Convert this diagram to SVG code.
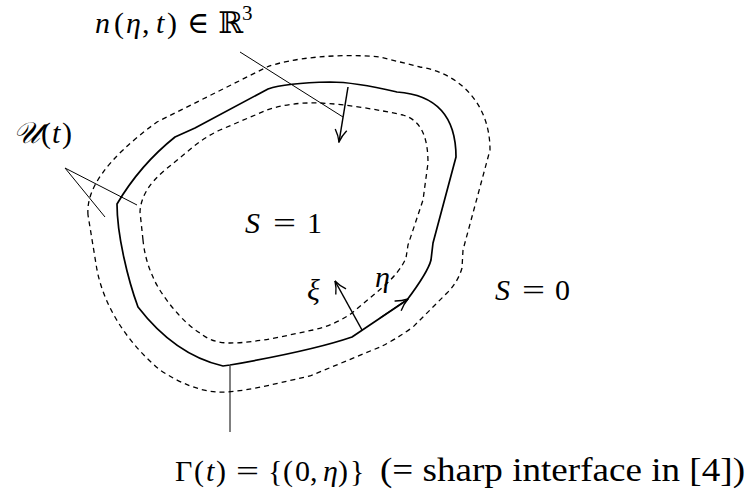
<svg xmlns="http://www.w3.org/2000/svg" width="752" height="490" viewBox="0 0 752 490">
<style>
.solid{fill:none;stroke:#000;stroke-width:1.7;stroke-linejoin:round}
.dash{fill:none;stroke:#000;stroke-width:1.3;stroke-dasharray:5 4}
.thin{fill:none;stroke:#000;stroke-width:1}
.arrow{fill:none;stroke:#000;stroke-width:1.5;marker-end:url(#head)}
text{font-family:"Liberation Serif","DejaVu Serif",serif;font-size:30px;fill:#000}
.it{font-style:italic}
.txt{font-size:33px}
</style>
<defs>
<marker id="head" viewBox="0 0 12 12" refX="11.5" refY="6" markerWidth="14" markerHeight="14" markerUnits="userSpaceOnUse" orient="auto">
<path d="M1,1 Q6,4.5 11.5,6 Q6,7.5 1,11" fill="none" stroke="#000" stroke-width="1.2"/>
</marker>
</defs>
<rect width="752" height="490" fill="#fff"/>

<g id="outer-boundary">
<path class="dash" d="M88,215 C86,190 105,160 157,122 L267,67 C290,58 340,53 380,57 L420,67 C455,72 490,100 490,150 L463,250 L462,268 Q458,282 447,293 L413,327 Q395,340 380,347 L310,376 C270,385 240,393 217,392 Q190,390 160,370 C130,345 105,310 97,270 Z"/>
</g>
<g id="inner-boundary">
<path class="dash" d="M143,240 L140,212 Q141,190 165,170 L193,147 Q205,137 220,130 L267,110 Q290,102 320,103 C345,104 380,110 403,115 C420,120 428,135 428,163 L423,200 L408,245 L406,258 Q400,272 383,287 L352,313 Q335,325 313,330 L280,337 Q250,343 230,343 Q212,343 200,333 C185,325 160,295 153,277 Q145,260 143,240 Z"/>
</g>
<g id="interface">
<path class="solid" d="M117,204 Q140,165 175,137 L195,128 L268,89 Q285,83 330,82 C355,82 380,88 397,92 C440,95 456,120 456,157 L433,243 L431,260 Q428,272 407,300 L352,337 C320,348 270,358 230,365 L223,366 Q175,355 138,307 C128,280 117,235 117,204 Z"/>
</g>

<g id="connectors">
<line class="thin" x1="240" y1="52" x2="343" y2="117"/>
<line class="thin" x1="65" y1="168" x2="105" y2="217"/>
<line class="thin" x1="65" y1="168" x2="137" y2="205"/>
<line class="thin" x1="230" y1="366" x2="230" y2="432"/>
<line class="arrow" x1="348" y1="87" x2="339" y2="142"/>
<line class="arrow" x1="362" y1="330" x2="335" y2="281"/>
<path class="arrow" d="M380,318 L408,299"/>
</g>

<g id="label-n">
<text y="33"><tspan class="it" x="95">n</tspan><tspan x="114">(</tspan><tspan class="it" x="126">η</tspan><tspan x="142">,</tspan><tspan class="it" x="156">t</tspan><tspan x="167">)</tspan><tspan x="187">∈</tspan><tspan x="218">ℝ</tspan><tspan x="242" y="20" style="font-size:21px">3</tspan></text>
</g>
<g id="label-U">
<text y="143"><tspan x="13" class="it">𝒰</tspan><tspan x="41">(</tspan><tspan class="it" x="52">t</tspan><tspan x="62">)</tspan></text>
</g>
<g id="label-S1">
<text class="it" x="245" y="233">S</text>
<text x="273" y="233" textLength="23" lengthAdjust="spacingAndGlyphs">=</text>
<text x="307" y="233">1</text>
</g>
<g id="label-S0">
<text class="it" x="495" y="300">S</text>
<text x="522" y="300" textLength="23" lengthAdjust="spacingAndGlyphs">=</text>
<text x="555" y="300">0</text>
</g>
<g id="label-xi">
<text class="it" x="307" y="300">ξ</text>
</g>
<g id="label-eta">
<text class="it" x="375" y="287">η</text>
</g>
<g id="label-gamma">
<text y="481"><tspan x="175">Γ</tspan><tspan x="194">(</tspan><tspan class="it" x="206">t</tspan><tspan x="216">)</tspan><tspan x="268">{</tspan><tspan x="283">(</tspan><tspan x="295">0</tspan><tspan x="310">,</tspan><tspan class="it" x="323">η</tspan><tspan x="338">)</tspan><tspan x="350">}</tspan></text>
<text x="236" y="481" textLength="23" lengthAdjust="spacingAndGlyphs">=</text>
<text class="txt" x="380" y="481" textLength="365" lengthAdjust="spacingAndGlyphs">(= sharp interface in [4])</text>
</g>
</svg>
